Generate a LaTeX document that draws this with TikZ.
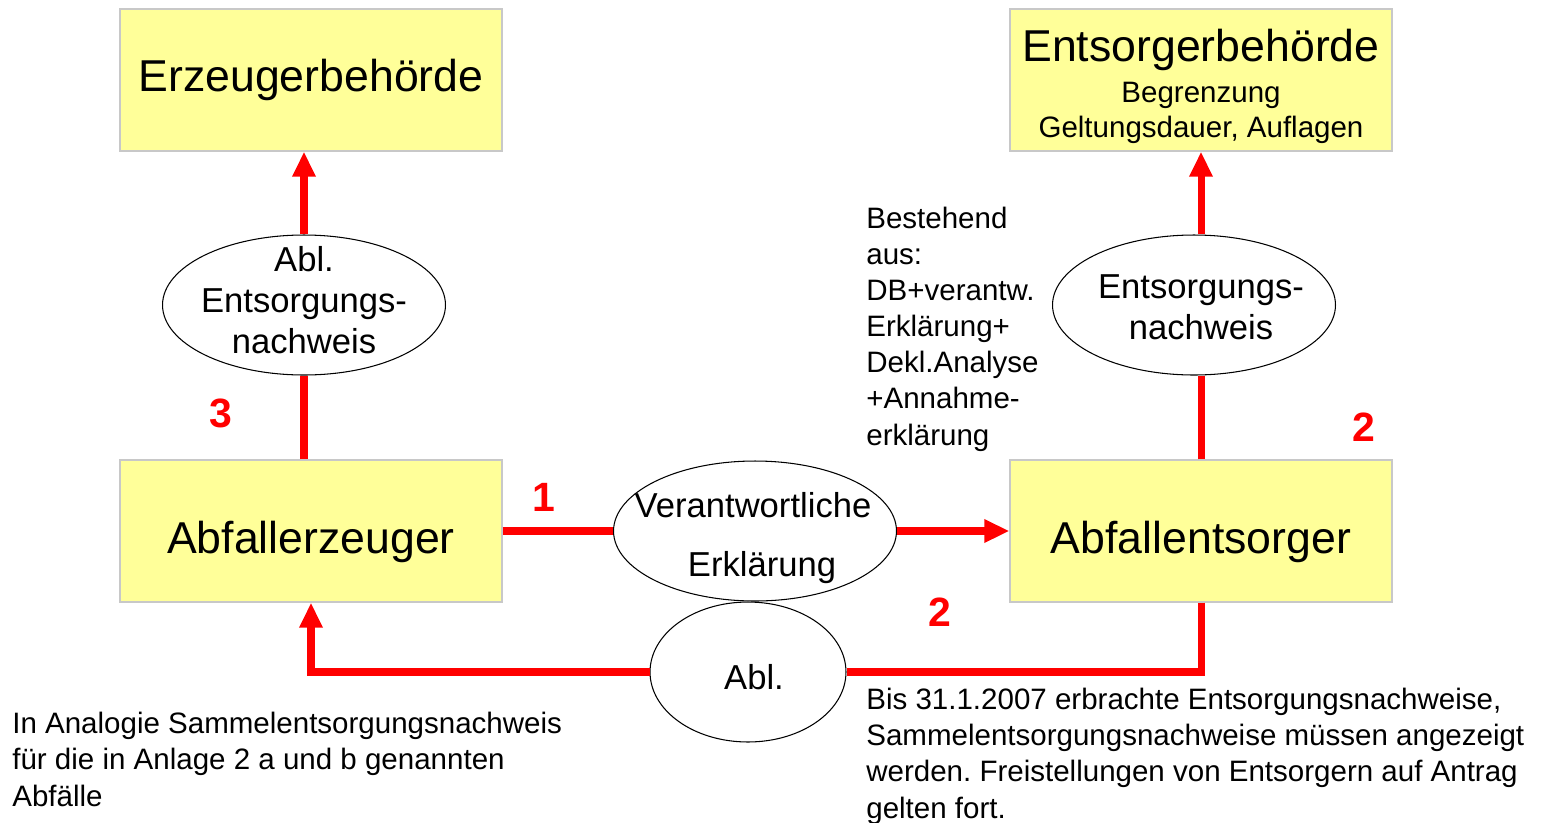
\documentclass[tikz,border=0pt]{standalone}
\usepackage{fontspec}
\setmainfont{Liberation Sans}
\usetikzlibrary{shapes.geometric,arrows.meta}
\definecolor{boxfill}{HTML}{FFFF99}
\definecolor{boxline}{HTML}{C8C8C8}
\definecolor{flowred}{HTML}{FF0000}
\newcommand{\fbig}{\fontsize{25.4}{30}\selectfont}
\newcommand{\fmid}{\fontsize{19.7}{23.3}\selectfont}
\newcommand{\fsmall}{\fontsize{16.8}{20.5}\selectfont}
\newcommand{\fnum}{\fontsize{23.3}{28}\selectfont\bfseries}
\frenchspacing
\begin{document}
\begin{tikzpicture}[x=0.02cm,y=-0.02cm,
 box/.style={draw=boxline,fill=boxfill,line width=0.8pt,minimum width=7.64cm,minimum height=2.84cm,inner sep=0,font=\fbig},
 oval/.style={draw=black,ellipse,line width=0.6pt,minimum width=5.66cm,minimum height=2.8cm,inner xsep=-1.2cm,inner ysep=-0.6cm,align=center,font=\fmid},
 flow/.style={draw=flowred,line width=4pt},
 flowarrow/.style={flow,-{Triangle[length=0.5cm,width=0.44cm]}},
 num/.style={text=flowred,font=\fnum,inner sep=0},
 note/.style={font=\fsmall,align=left,inner sep=0,anchor=base west},
 sub/.style={anchor=base,inner sep=0},
 ovaltext/.style={font=\fmid,inner sep=0}]
\useasboundingbox (0,0) rectangle (1541,822);
% boxes
\node[box] (eb) at (311,80) {Erzeugerbehörde};
\node[box] (ent) at (1201,80) {};
\node[sub,font=\fbig] (enttitle) at (1201,61) {Entsorgerbehörde};
\node[sub,font=\fsmall] (entsub1) at (1201,102) {Begrenzung};
\node[sub,font=\fsmall] (entsub2) at (1201,137) {Geltungsdauer, Auflagen};
\node[box,text height=1.1cm,text depth=0.19cm] (ae) at (311,531) {Abfallerzeuger};
\node[box,text height=1.1cm,text depth=0.19cm] (af) at (1201,531) {Abfallentsorger};
% ellipses
\node[oval] (aen) at (304,305) {};
\node[ovaltext,align=center] (aentext) at (304,300) {Abl.\\Entsorgungs-\\nachweis};
\node[oval] (en) at (1194,305) {};
\node[ovaltext,align=center] (entext) at (1201,307) {Entsorgungs-\\nachweis};
\node[oval] (ve) at (755,531) {};
\node[ovaltext] (vetext1) at (753,505) {Verantwortliche};
\node[ovaltext] (vetext2) at (762,568) {Erklärung};
\node[oval,minimum width=3.92cm] (abl) at (748,672) {};
\node[ovaltext] (abltext) at (754,677) {Abl.};
% connectors
\draw[flow] (ae.north -| aen.south) -- (aen.south);
\draw[flowarrow] (aen.north) -- (aen.north |- eb.south);
\draw[flow] (af.north) -- (af.north |- en.south);
\draw[flowarrow] (en.north -| af.north) -- (ent.south);
\draw[flow] (ae.east) -- (ve.west);
\draw[flowarrow] (ve.east) -- (af.west);
\draw[flow] (af.south) |- (abl.east);
\draw[flowarrow] (abl.west) -| (ae.south);
% numbers
\node[num] (n3) at (221,413) {3};
\node[num] (n1) at (544,497) {1};
\node[num] (n2a) at (1364,427) {2};
\node[num] (n2b) at (940,612) {2};
% notes
\node[note] (bestehend) at (866,445) {Bestehend\\aus:\\DB+verantw.\\Erklärung+\\Dekl.Analyse\\+Annahme-\\erklärung};
\node[note] (analogie) at (12,806) {In Analogie Sammelentsorgungsnachweis\\für die in Anlage 2 a und b genannten\\Abfälle};
\node[note] (bis) at (866,818) {Bis 31.1.2007 erbrachte Entsorgungsnachweise,\\Sammelentsorgungsnachweise müssen angezeigt\\werden. Freistellungen von Entsorgern auf Antrag\\gelten fort.};
\end{tikzpicture}
\end{document}
